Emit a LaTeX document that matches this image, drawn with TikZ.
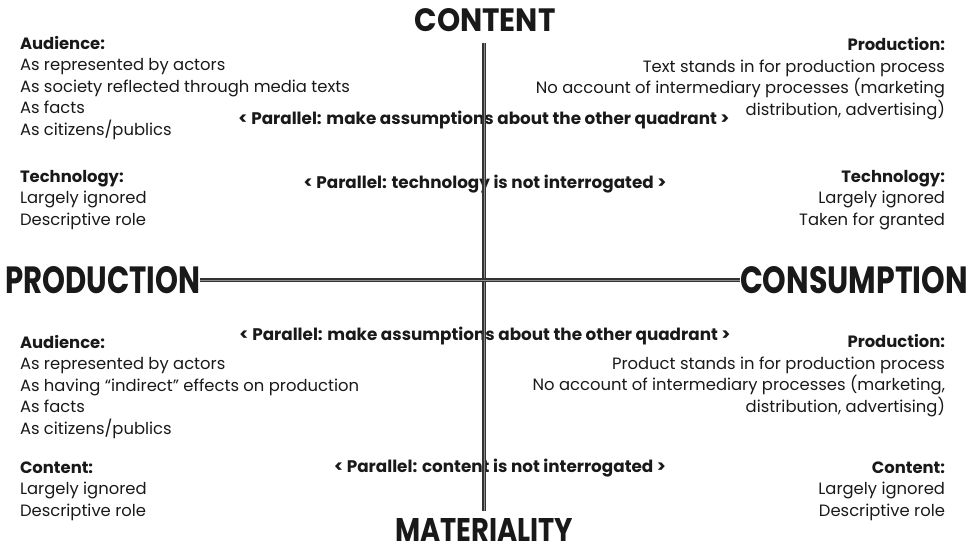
\documentclass[tikz,border=0pt]{standalone}
\usepackage{fontspec}
\setmainfont{Poppins}
\usepackage{graphicx}
\begin{document}
\begin{tikzpicture}[x=1pt,y=-1pt,
  every node/.style={inner sep=0pt, outer sep=0pt, text=black!90},
  body/.style={font=\fontsize{16.4}{21.5}\selectfont},
  bodyL/.style={body, align=left, anchor=base west},
  bodyR/.style={body, align=right, anchor=base east},
  parallel/.style={font=\fontsize{16.8}{21.5}\selectfont\bfseries, anchor=base},
  axis/.style={draw=black!80, line width=1.1pt, double=black!45, double distance=0.9pt},
  head/.style={anchor=base}]
\useasboundingbox (0,0) rectangle (973,552);

% axis titles, squeezed to a condensed look
\node[head] (content) at (485,31) {\resizebox{141pt}{23pt}{\bfseries CONTENT}};
\node[head] (materiality) at (484,541) {\resizebox{178pt}{23pt}{\bfseries MATERIALITY}};
\node[head, anchor=base west] (production) at (5,293) {\resizebox{195pt}{27pt}{\bfseries PRODUCTION}};
\node[head, anchor=base east] (consumption) at (968,293) {\resizebox{228pt}{27pt}{\bfseries CONSUMPTION}};

% upper left quadrant (anchored on the baseline of the last line)
\node[bodyL] (ulA) at (20,135) {\textbf{Audience:}\\As represented by actors\\As society reflected through media texts\\As facts\\As citizens/publics};
\node[bodyL] (ulT) at (20,225) {\textbf{Technology:}\\Largely ignored\\Descriptive role};

% upper right quadrant
\node[bodyR] (urP) at (945,115) {\textbf{Production:}\\Text stands in for production process\\No account of intermediary processes (marketing\\distribution, advertising)};
\node[bodyR] (urT) at (945,225) {\textbf{Technology:}\\Largely ignored\\Taken for granted};

% lower left quadrant
\node[bodyL] (llA) at (20,434) {\textbf{Audience:}\\As represented by actors\\As having ``indirect'' effects on production\\As facts\\As citizens/publics};
\node[bodyL] (llC) at (20,516) {\textbf{Content:}\\Largely ignored\\Descriptive role};

% lower right quadrant
\node[bodyR] (lrP) at (945,412) {\textbf{Production:}\\Product stands in for production process\\No account of intermediary processes (marketing,\\distribution, advertising)};
\node[bodyR] (lrC) at (945,516) {\textbf{Content:}\\Largely ignored\\Descriptive role};

% parallels across the vertical axis
\node[parallel] (p1) at (484,124) {< Parallel: make assumptions about the other quadrant >};
\node[parallel] (p2) at (485,188) {< Parallel: technology is not interrogated >};
\node[parallel] (p3) at (485,340) {< Parallel: make assumptions about the other quadrant >};
\node[parallel] (p4) at (500,472) {< Parallel: content is not interrogated >};

% axes
\coordinate (vtop) at (484,43);
\coordinate (vbot) at (484,511);
\draw[axis] (vtop) -- (vbot);
\draw[axis] (production.east |- 0,280) -- (consumption.west |- 0,280);
\end{tikzpicture}
\end{document}
